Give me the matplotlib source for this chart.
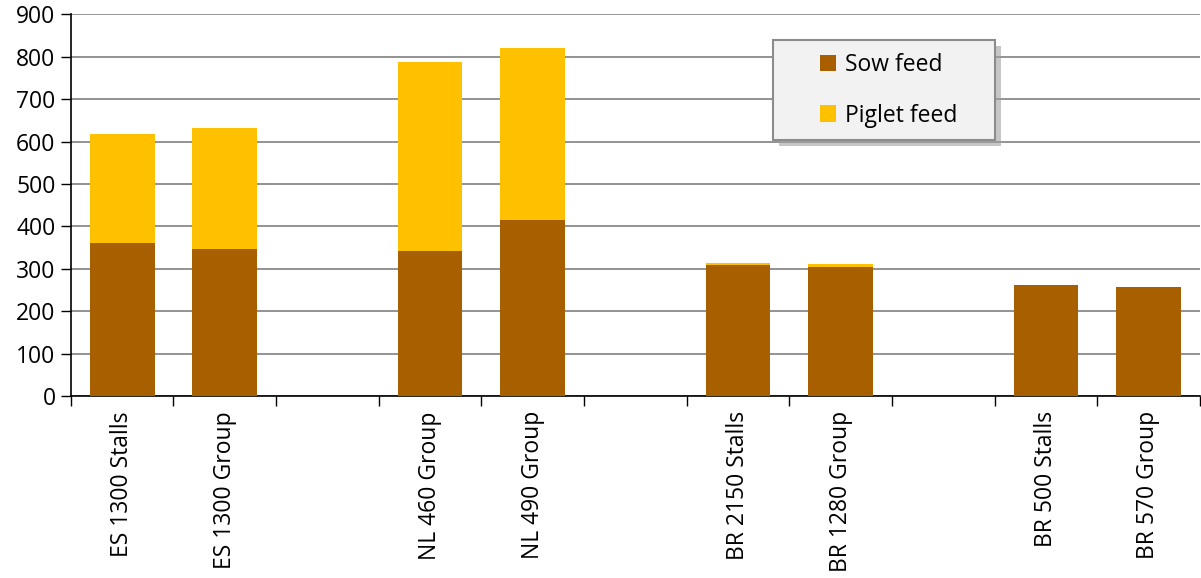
import numpy as np
from matplotlib import pyplot as plt
from matplotlib.patches import Rectangle

# Datos
categorias = ['ES 1300 Stalls', 'ES 1300 Group', '', 'NL 460 Group', 'NL 490 Group', '',
              'BR 2150 Stalls', 'BR 1280 Group', '', 'BR 500 Stalls', 'BR 570 Group']
sow_feed = [361, 347, 0, 341, 415, 0, 309, 303, 0, 262, 258]
piglet_feed = [258, 284, 0, 447, 407, 0, 5, 8, 0, 0, 0]

color_sow = '#A85F00'
color_piglet = '#FFC000'

plt.rcParams['font.family'] = ['Open Sans', 'DejaVu Sans']

fig, ax = plt.subplots(figsize=(12.01, 5.78), dpi=100)
plt.subplots_adjust(left=0.059, right=0.999, top=0.975, bottom=0.315)

x = np.arange(len(categorias))
ax.bar(x, sow_feed, width=0.63, color=color_sow, label='Sow feed', zorder=3)
ax.bar(x, piglet_feed, width=0.63, bottom=sow_feed, color=color_piglet, label='Piglet feed', zorder=3)

ax.set_xlim(-0.5, len(categorias) - 0.5)
ax.set_ylim(0, 900)
ax.set_yticks(range(0, 901, 100))
ax.yaxis.grid(True, color='#808080', linewidth=1.2, zorder=0)
ax.set_axisbelow(True)

# Marcas del eje x en los bordes de cada categoria
ax.set_xticks(np.arange(-0.5, len(categorias), 1.0))
ax.set_xticklabels([])
ax.set_xticks(x, minor=True)
ax.set_xticklabels(categorias, minor=True, rotation=90, fontsize=16.5, va='top')
ax.tick_params(axis='x', which='minor', length=0, pad=11)
ax.tick_params(axis='x', which='major', length=7, width=1, direction='out')
ax.tick_params(axis='y', length=7, width=1, labelsize=16.5, pad=4)

for lado in ['top', 'right']:
    ax.spines[lado].set_visible(False)
ax.spines['left'].set_linewidth(1.2)
ax.spines['bottom'].set_linewidth(1.2)

# Caja de la leyenda con sombra
caja_x, caja_y, caja_w, caja_h = 0.622, 0.670, 0.197, 0.262
sombra = Rectangle((caja_x + 0.005, caja_y - 0.014), caja_w, caja_h, transform=ax.transAxes,
                   facecolor='#A0A0A0', edgecolor='none', alpha=0.6, zorder=4, clip_on=False)
ax.add_patch(sombra)
caja = Rectangle((caja_x, caja_y), caja_w, caja_h, transform=ax.transAxes,
                 facecolor='#F2F2F2', edgecolor='#8C8C8C', linewidth=1.5, zorder=4.5, clip_on=False)
ax.add_patch(caja)

leg = ax.legend(loc='center', bbox_to_anchor=(caja_x + caja_w / 2 + 0.004, caja_y + caja_h / 2),
                fontsize=16.5, frameon=False, handlelength=0.7, handleheight=0.7,
                labelspacing=1.15, borderpad=0, handletextpad=0.4, borderaxespad=0)
leg.set_zorder(6)

plt.savefig('out.png', dpi=100)
